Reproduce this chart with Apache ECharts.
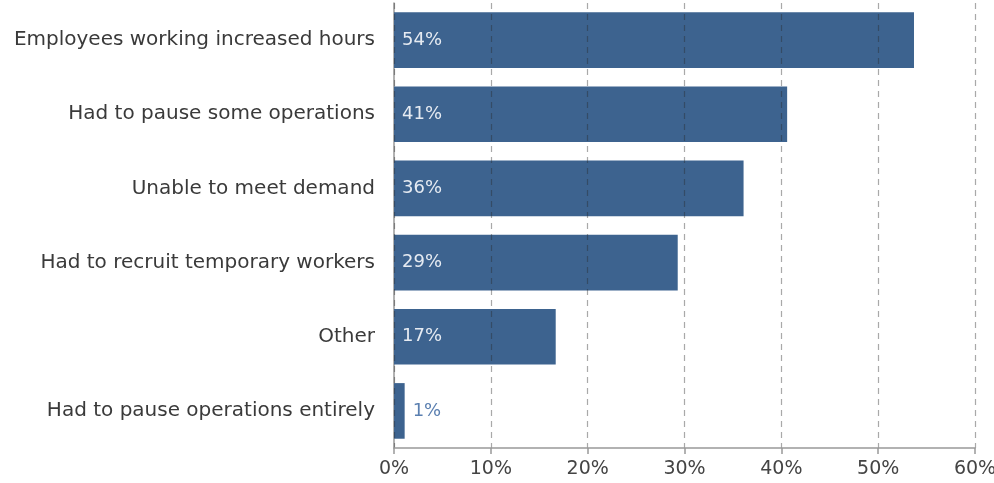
<!DOCTYPE html>
<html><head><meta charset="utf-8">
<script src="https://cdn.jsdelivr.net/npm/echarts@6/dist/echarts.min.js"></script>
<style>html,body{margin:0;padding:0;background:#fff}#c{width:994px;height:483px}</style>
</head><body><div id="c"></div>
<script>
var categories = ["Employees working increased hours","Had to pause some operations","Unable to meet demand","Had to recruit temporary workers","Other","Had to pause operations entirely"];
var values = [53.7, 40.6, 36.1, 29.3, 16.7, 1.1];
var xTicks = [0, 10, 20, 30, 40, 50, 60];
var FONT = "DejaVu Sans";
var chart = echarts.init(document.getElementById('c'));
var data = values.map(function(v){
  var small = v < 5;
  return {value: v, label: small ? {position: 'right', color: '#5a7fb0', distance: 8} : {position: 'insideLeft', color: '#e6ebf2', distance: 8}};
});
chart.setOption({
  animation: false,
  grid: {left: 394, right: 19, top: 3, bottom: 35, containLabel: false, outerBoundsMode: 'none'},
  xAxis: {
    type: 'value', min: xTicks[0], max: xTicks[xTicks.length-1], interval: 10, z: 5,
    axisLine: {show: true, lineStyle: {color: '#999', width: 1.5}},
    axisTick: {show: true, length: 6, lineStyle: {color: '#999', width: 1.5}},
    axisLabel: {formatter: '{value}%', color: '#444', fontFamily: FONT, fontSize: 19, margin: 12},
    splitLine: {show: true, lineStyle: {type: [6, 5], color: 'rgba(40,40,40,0.4)', width: 1.2}}
  },
  yAxis: {
    type: 'category', data: categories, inverse: true,
    axisLine: {show: true, lineStyle: {color: '#999', width: 1.5}},
    axisTick: {show: false},
    axisLabel: {color: '#3a3a3a', fontFamily: FONT, fontSize: 20, margin: 19}
  },
  series: [{
    type: 'bar', data: data, barCategoryGap: '25%', z: 2,
    itemStyle: {color: '#3d638f'},
    label: {show: true, fontFamily: FONT, fontSize: 18, formatter: function(p){return Math.round(p.value) + '%';}}
  }]
});
</script></body></html>
